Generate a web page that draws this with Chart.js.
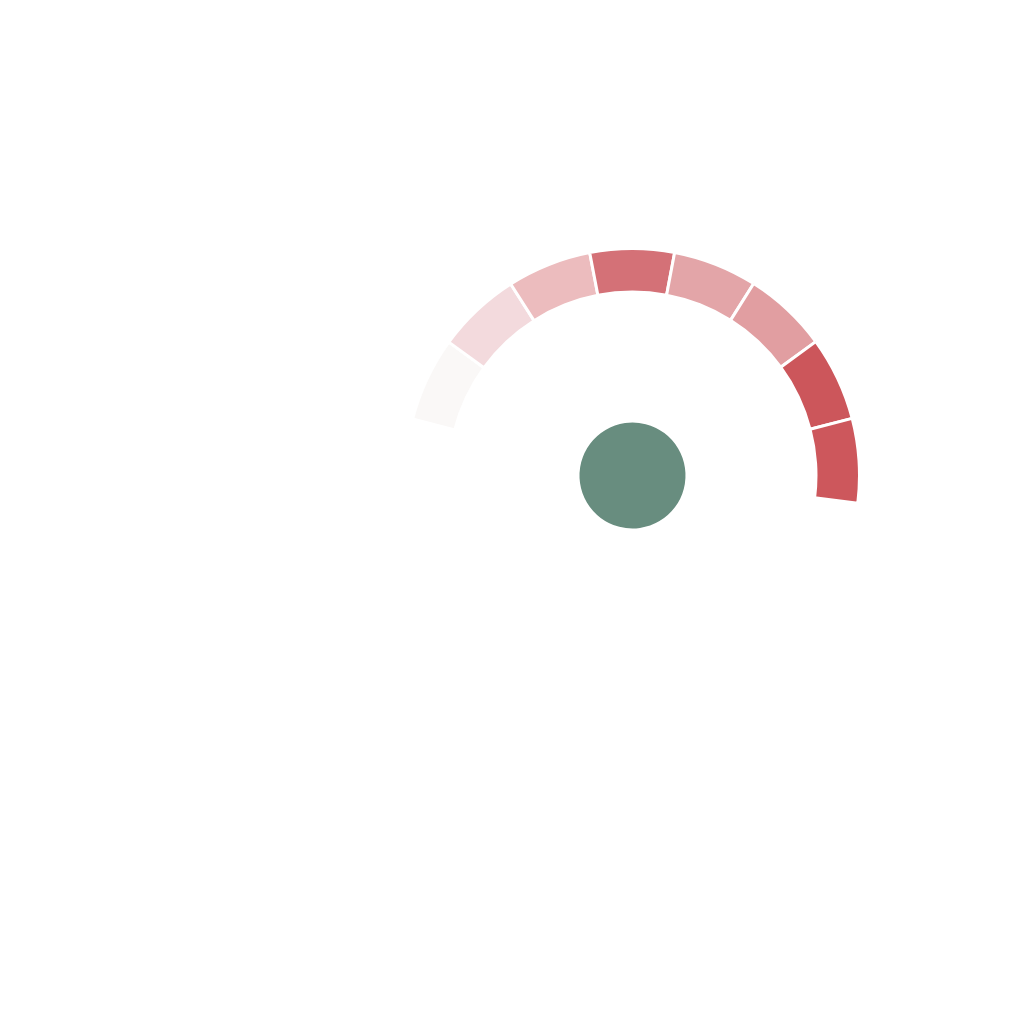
<!DOCTYPE html>
<html>
<head>
<meta charset="utf-8">
<script src="https://cdn.jsdelivr.net/npm/chart.js@4.4.1/dist/chart.umd.min.js"></script>
<style>
  html, body { margin: 0; padding: 0; background: #fff; }
  body { width: 1024px; height: 1024px; position: relative; overflow: hidden; }
  .gauge { position: absolute; left: 403.5px; top: 246.5px; width: 457px; height: 457px; }
</style>
</head>
<body>
<div class="gauge"><canvas id="gaugeChart"></canvas></div>
<script>
// gauge bands (equal size), light to dark
const bandLabels = ["1", "2", "3", "4", "5", "6", "7", "8"];
const bandValues = [1, 1, 1, 1, 1, 1, 1, 1];
const bandColors = ["#faf8f7", "#f3dadd", "#ecbcbe", "#d47177", "#e3a5a8", "#e19ea1", "#cc565b", "#cd575c"];

// hub in the middle
const hubValues = [1];
const hubColor = "#688d7f";

const startAngle = -75.6;
const sweep = 172.6;

const ctx = document.getElementById('gaugeChart');

new Chart(ctx, {
  type: 'doughnut',
  data: {
    labels: bandLabels,
    datasets: [
      {
        label: 'Bands',
        data: bandValues,
        backgroundColor: bandColors,
        borderColor: '#ffffff',
        borderWidth: 3,
        rotation: startAngle,
        circumference: sweep,
        weight: 43.5
      },
      {
        label: 'Spacer',
        data: [1],
        backgroundColor: 'rgba(0,0,0,0)',
        borderWidth: 0,
        rotation: startAngle,
        circumference: 360,
        weight: 130.5
      },
      {
        label: 'Hub',
        data: hubValues,
        backgroundColor: [hubColor],
        borderWidth: 0,
        rotation: startAngle,
        circumference: 360,
        weight: 53
      }
    ]
  },
  options: {
    responsive: true,
    maintainAspectRatio: false,
    animation: false,
    cutout: 0,
    layout: { padding: 0 },
    plugins: {
      legend: { display: false },
      tooltip: { enabled: false }
    },
    events: []
  }
});
</script>
</body>
</html>
